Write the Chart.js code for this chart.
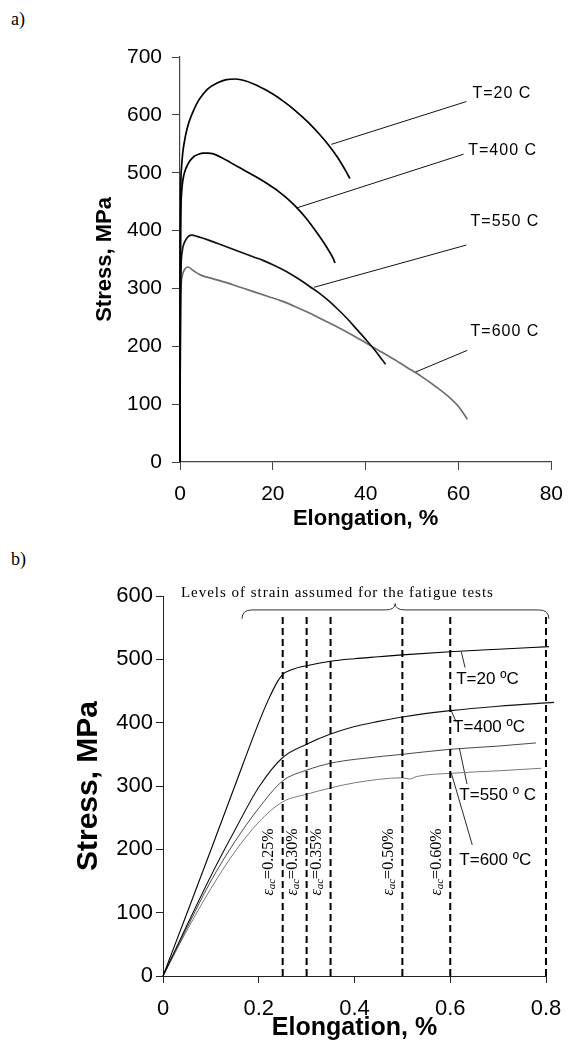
<!DOCTYPE html>
<html><head><meta charset="utf-8">
<script src="https://cdn.jsdelivr.net/npm/chart.js@4"></script>
<style>
html,body{margin:0;padding:0;background:#fff;}
#wrap{position:relative;width:575px;height:1051px;overflow:hidden;background:#fff;}
canvas{position:absolute;left:0;}
.pl{position:absolute;font-family:"Liberation Serif","Times New Roman",serif;font-size:18px;line-height:1;color:#000;}
</style></head><body>
<div id="wrap">
<div class="pl" style="left:11px;top:10px">a)</div>
<div class="pl" style="left:11px;top:550px">b)</div>
<canvas id="c1" width="575" height="540" style="top:0"></canvas>
<canvas id="c2" width="575" height="511" style="top:540px"></canvas>
</div>
<script>
// ---------- Chart a) : full tensile curves ----------
const topXTicks = [0, 20, 40, 60, 80];
const topYTicks = [0, 100, 200, 300, 400, 500, 600, 700];

const a20X = [0, 0.04, 0.1, 0.2, 0.3, 0.6, 1, 1.5, 2, 3, 4, 5, 6, 8, 10, 12, 14, 16, 18, 20, 22, 24, 26, 28, 30, 32, 34, 35, 36, 36.6];
const a20Y = [0, 250, 420, 490, 505, 535, 556, 575, 589, 609, 625, 636, 645, 655, 661, 662, 659, 653, 645, 636, 625, 613, 599, 584, 567, 548, 526, 513, 499, 490];

const a400X = [0, 0.04, 0.1, 0.2, 0.3, 0.5, 0.8, 1.2, 1.6, 2, 2.5, 3, 4, 5, 6, 7, 9, 11, 13, 15, 17, 19, 21, 23, 25, 27, 29, 31, 32, 33, 33.4];
const a400Y = [0, 200, 360, 440, 460, 480, 495, 506, 513, 519, 524, 528, 532, 534, 534, 533, 526, 517, 508, 499, 490, 480, 469, 456, 441, 423, 402, 379, 366, 352, 344];

const a550X = [0, 0.04, 0.1, 0.2, 0.5, 1, 1.5, 2, 2.5, 4, 6, 8, 10, 12, 14, 16, 18, 20, 22, 24, 26, 28, 30, 32, 34, 36, 38, 40, 42, 43.5, 44.3];
const a550Y = [0, 150, 270, 330, 365, 380, 387, 391, 392, 389, 384, 378, 372, 366, 360, 354, 348, 341, 333, 324, 314, 303, 292, 279, 264, 248, 230, 212, 193, 177, 169];

const a600X = [0, 0.04, 0.1, 0.2, 0.5, 1, 1.7, 3, 4.5, 7, 10, 13, 16, 19, 22, 25, 28, 31, 34, 37, 40, 43, 46, 49, 52, 55, 58, 60, 61.9];
const a600Y = [0, 150, 240, 295, 322, 333, 337, 330, 323, 317, 310, 302, 294, 286, 278, 268, 257, 245, 233, 220, 206, 192, 178, 163, 148, 131, 112, 96, 74];

const aLabelText = ['T=20 C', 'T=400 C', 'T=550 C', 'T=600 C'];
const aLabelX = [63.0, 62.1, 62.6, 62.6];
const aLabelY = [637, 539, 416, 225];
const aLeadFromX = [32.6, 25.1, 28.9, 50.6];
const aLeadFromY = [549, 439, 302, 155];
const aLeadToX = [61.7, 61.1, 61.7, 61.9];
const aLeadToY = [623, 532, 375, 193];

// ---------- Chart b) : elastic / early plastic range ----------
const botXTicks = [0, 0.2, 0.4, 0.6, 0.8];
const botYTicks = [0, 100, 200, 300, 400, 500, 600];

const b20X = [0, 0.05, 0.1, 0.15, 0.2, 0.22, 0.24, 0.25, 0.27, 0.3, 0.35, 0.4, 0.45, 0.5, 0.6, 0.7, 0.806];
const b20Y = [0, 99, 199, 300, 400, 436, 466, 476, 484, 490, 497, 501, 504, 507, 512, 516, 520];

const b400X = [0, 0.05, 0.1, 0.15, 0.2, 0.25, 0.3, 0.35, 0.4, 0.45, 0.5, 0.6, 0.7, 0.817];
const b400Y = [0, 80, 158, 230, 298, 345, 366, 382, 394, 402, 409, 419, 426, 432];

const b550X = [0, 0.05, 0.1, 0.15, 0.2, 0.25, 0.3, 0.35, 0.4, 0.5, 0.6, 0.7, 0.779];
const b550Y = [0, 76, 150, 212, 265, 308, 325, 336, 342, 350, 358, 363, 368];

const b600X = [0, 0.05, 0.1, 0.15, 0.2, 0.25, 0.3, 0.35, 0.4, 0.5, 0.515, 0.53, 0.6, 0.7, 0.79];
const b600Y = [0, 72, 138, 196, 243, 275, 287, 297, 305, 313, 311, 315, 320, 324, 328];

const strainLevels = [0.25, 0.30, 0.35, 0.50, 0.60, 0.80];
const strainLineTop = 570;
const strainLabelStart = 127;

const bLabelText = ['T=20 \u00baC', 'T=400 \u00baC', 'T=550 \u00ba C', 'T=600 \u00baC'];
const bLabelX = [0.6125, 0.606, 0.619, 0.619];
const bLabelY = [468, 392, 286, 183];
const bLeadFromX = [0.623, 0.602, 0.619, 0.602];
const bLeadFromY = [512, 419, 360, 321];
const bLeadToX = [0.631, 0.6125, 0.635, 0.646];
const bLeadToY = [487, 401, 303, 207];

const braceTitle = 'Levels of strain assumed for the fatigue tests';
const brace = {left: 0.165, right: 0.806, tip: 0.485, endY: 564, barY: 578, tipY: 588, titleX: 0.0375, titleY: 605};

// ---------- helpers ----------
const SANS = "'Liberation Sans', Arial, Helvetica, sans-serif";
const SERIF = "'Liberation Serif', 'Times New Roman', serif";
const pts = (xs, ys) => xs.map((x, i) => ({x, y: ys[i]}));

function curve(xs, ys, color, w) {
  return {data: pts(xs, ys), borderColor: color, borderWidth: w, pointRadius: 0,
          fill: false, cubicInterpolationMode: 'monotone', clip: false};
}
function segs(fx, fy, tx, ty, color, w) {
  return fx.map((_, i) => ({data: [{x: fx[i], y: fy[i]}, {x: tx[i], y: ty[i]}],
    borderColor: color, borderWidth: w, pointRadius: 0, fill: false, tension: 0, clip: false}));
}

function labelPlugin(texts, xs, ys, font, ls) {
  return {
    id: 'curveLabels',
    afterDatasetsDraw(chart) {
      const {ctx, scales: {x, y}} = chart;
      ctx.save();
      ctx.font = font;
      ctx.fillStyle = '#000';
      ctx.textAlign = 'left';
      ctx.textBaseline = 'middle';
      if (ls) ctx.letterSpacing = ls + 'px';
      texts.forEach((t, i) => ctx.fillText(t, x.getPixelForValue(xs[i]), y.getPixelForValue(ys[i])));
      ctx.restore();
    }
  };
}

function fixedTicks(values) {
  return function (scale) { scale.ticks = values.map(v => ({value: v})); };
}

// ---------- Chart a ----------
const axisA = '#444';
new Chart(document.getElementById('c1'), {
  type: 'line',
  data: {
    datasets: [
      curve(a20X, a20Y, '#000', 1.7),
      curve(a400X, a400Y, '#000', 1.7),
      curve(a550X, a550Y, '#111', 1.7),
      curve(a600X, a600Y, '#6e6e6e', 1.7),
      ...segs(aLeadFromX, aLeadFromY, aLeadToX, aLeadToY, '#111', 1)
    ]
  },
  options: {
    responsive: false, animation: false, events: [],
    layout: {padding: {top: 57, right: 18, left: 0, bottom: 0}},
    plugins: {legend: {display: false}, tooltip: {enabled: false}},
    scales: {
      x: {
        type: 'linear', min: 0, max: 80,
        afterBuildTicks: fixedTicks(topXTicks),
        ticks: {font: {family: SANS, size: 21}, color: '#000', padding: 12, maxRotation: 0},
        grid: {drawOnChartArea: false, tickLength: 8, color: axisA, lineWidth: 1},
        border: {color: axisA, width: 1.2},
        title: {display: true, text: 'Elongation, %', color: '#000',
                font: {family: SANS, size: 22, weight: 'bold'}, padding: {top: 0, bottom: 8}},
        afterFit(s) { s.height = 78; }
      },
      y: {
        type: 'linear', min: 0, max: 700,
        afterBuildTicks: fixedTicks(topYTicks),
        ticks: {font: {family: SANS, size: 21}, color: '#000', padding: 10},
        grid: {drawOnChartArea: false, tickLength: 8, color: axisA, lineWidth: 1},
        border: {color: axisA, width: 1.2},
        title: {display: true, text: 'Stress, MPa', color: '#000',
                font: {family: SANS, size: 22, weight: 'bold'}, padding: {top: 92, bottom: 0}},
        afterFit(s) { s.width = 180; }
      }
    }
  },
  plugins: [labelPlugin(aLabelText, aLabelX, aLabelY, '16px ' + SANS, 1)]
});

// ---------- Chart b ----------
const epsPlugin = {
  id: 'epsLabels',
  afterDatasetsDraw(chart) {
    const {ctx, scales: {x, y}} = chart;
    ctx.save();
    ctx.fillStyle = '#000';
    ctx.textBaseline = 'middle';
    ctx.textAlign = 'left';
    strainLevels.slice(0, -1).forEach(lv => {
      const px = x.getPixelForValue(lv) - 13.5;
      const py = y.getPixelForValue(strainLabelStart);
      ctx.save();
      ctx.translate(px, py);
      ctx.rotate(-Math.PI / 2);
      let cx = 0;
      ctx.font = 'italic 16px ' + SERIF;
      ctx.fillText('\u03b5', cx, 0); cx += ctx.measureText('\u03b5').width;
      ctx.font = 'italic 11px ' + SERIF;
      ctx.fillText('ac', cx, 3); cx += ctx.measureText('ac').width;
      ctx.font = '16px ' + SERIF;
      ctx.fillText('=' + lv.toFixed(2) + '%', cx, 0);
      ctx.restore();
    });
    // brace
    const l = x.getPixelForValue(brace.left), r = x.getPixelForValue(brace.right);
    const t = x.getPixelForValue(brace.tip);
    const ye = y.getPixelForValue(brace.endY), yb = y.getPixelForValue(brace.barY), yt = y.getPixelForValue(brace.tipY);
    const rr = 10;
    ctx.strokeStyle = '#333';
    ctx.lineWidth = 1;
    ctx.beginPath();
    ctx.moveTo(l, ye);
    ctx.quadraticCurveTo(l, yb, l + rr, yb);
    ctx.lineTo(t - rr, yb);
    ctx.quadraticCurveTo(t, yb, t, yt);
    ctx.quadraticCurveTo(t, yb, t + rr, yb);
    ctx.lineTo(r - rr, yb);
    ctx.quadraticCurveTo(r, yb, r, ye);
    ctx.stroke();
    // brace title
    ctx.font = '15px ' + SERIF;
    ctx.textBaseline = 'middle';
    ctx.textAlign = 'left';
    const w = ctx.measureText(braceTitle).width;
    const ls = Math.max(0, (312 - w) / (braceTitle.length - 1));
    ctx.letterSpacing = ls.toFixed(2) + 'px';
    ctx.fillText(braceTitle, x.getPixelForValue(brace.titleX), y.getPixelForValue(brace.titleY));
    ctx.restore();
  }
};

const axisB = '#222';
new Chart(document.getElementById('c2'), {
  type: 'line',
  data: {
    datasets: [
      ...strainLevels.map(lv => ({data: [{x: lv, y: 0}, {x: lv, y: strainLineTop}],
        borderColor: '#000', borderWidth: 2, borderDash: [7, 4], pointRadius: 0, fill: false, clip: false})),
      curve(b20X, b20Y, '#000', 1.1),
      curve(b400X, b400Y, '#111', 1.1),
      curve(b550X, b550Y, '#333', 0.9),
      curve(b600X, b600Y, '#7a7a7a', 1),
      ...segs(bLeadFromX, bLeadFromY, bLeadToX, bLeadToY, '#111', 0.9)
    ]
  },
  options: {
    responsive: false, animation: false, events: [],
    layout: {padding: {top: 56, right: 29, left: 0, bottom: 0}},
    plugins: {legend: {display: false}, tooltip: {enabled: false}},
    scales: {
      x: {
        type: 'linear', min: 0, max: 0.8,
        afterBuildTicks: fixedTicks(botXTicks),
        ticks: {font: {family: SANS, size: 22}, color: '#000', padding: 13, maxRotation: 0,
                callback: v => String(v)},
        grid: {drawOnChartArea: false, tickLength: 7, color: axisB, lineWidth: 1},
        border: {color: axisB, width: 1},
        title: {display: true, text: 'Elongation, %', color: '#000',
                font: {family: SANS, size: 25, weight: 'bold'}, padding: {top: 0, bottom: 8}},
        afterFit(s) { s.height = 75; }
      },
      y: {
        type: 'linear', min: 0, max: 600,
        afterBuildTicks: fixedTicks(botYTicks),
        ticks: {font: {family: SANS, size: 22}, color: '#000', padding: 3},
        grid: {drawOnChartArea: false, tickLength: 7, color: axisB, lineWidth: 1},
        border: {color: axisB, width: 1},
        title: {display: true, text: 'Stress, MPa', color: '#000',
                font: {family: SANS, size: 30, weight: 'bold'}, padding: {top: 71, bottom: 0}},
        afterFit(s) { s.width = 163; }
      }
    }
  },
  plugins: [epsPlugin, labelPlugin(bLabelText, bLabelX, bLabelY, '17px ' + SANS, 0)]
});
</script>
</body></html>
